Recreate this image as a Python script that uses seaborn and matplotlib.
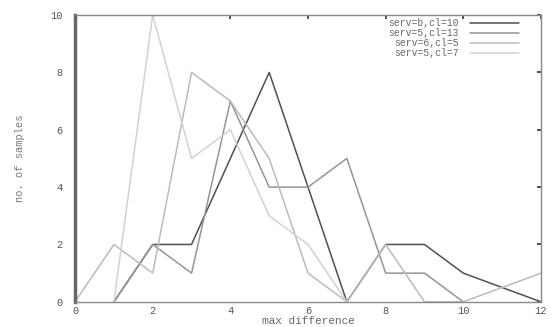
import numpy as np
import pandas as pd
import matplotlib
matplotlib.use("Agg")
import matplotlib.pyplot as plt
import seaborn as sns

# -------------------- DATA --------------------
x_vals = [0, 1, 2, 3, 4, 5, 6, 7, 8, 9, 10, 11, 12]
nan = np.nan
serv_b_cl10 = [nan, 0, 2, 2, 5, 8, 4, 0, 2, 2, 1, nan, 0]
serv_5_cl13 = [nan, 0, 2, 1, 7, 4, 4, 5, 1, 1, 0, nan, nan]
serv_6_cl5 = [0, 2, 1, 8, 7, 5, 1, 0, 2, 0, 0, nan, 1]
serv_5_cl7 = [nan, 0, 10, 5, 6, 3, 2, 0, nan, nan, nan, nan, nan]

series_names = ["serv=b,cl=10", "serv=5,cl=13", "serv=6,cl=5", "serv=5,cl=7"]
series_vals = [serv_b_cl10, serv_5_cl13, serv_6_cl5, serv_5_cl7]
colors = ["#505050", "#959595", "#bbbbbb", "#d2d2d2"]

x_ticks = [0, 2, 4, 6, 8, 10, 12]
y_ticks = [0, 2, 4, 6, 8, 10]

rows = []
for name, vals in zip(series_names, series_vals):
    for xv, yv in zip(x_vals, vals):
        if not np.isnan(yv):
            rows.append({"x": xv, "y": yv, "series": name})
df = pd.DataFrame(rows)

# -------------------- PLOT --------------------
sns.set_style("white")
plt.rcParams['font.family'] = ['Liberation Mono', 'DejaVu Sans Mono']

fig = plt.figure(figsize=(5.52, 3.27), dpi=100)
ax = fig.add_axes([0.136, 0.077, 0.844, 0.877])

sns.lineplot(data=df, x="x", y="y", hue="series", hue_order=series_names,
             palette=dict(zip(series_names, colors)), estimator=None,
             errorbar=None, sort=True, linewidth=1.1, ax=ax)

ax.set_xlim(0, 12)
ax.set_ylim(0, 10)
ax.set_xticks(x_ticks)
ax.set_yticks(y_ticks)
ax.set_xticklabels([str(t) for t in x_ticks], fontsize=7.5, color="#555555")
ax.set_yticklabels([str(t) for t in y_ticks], fontsize=7.5, color="#555555")
ax.tick_params(direction="in", length=3, width=1.2, color="#333333",
               top=True, right=True)
ax.tick_params(axis="y", pad=9)
ax.tick_params(axis="x", pad=3)

for side in ["top", "right", "bottom"]:
    ax.spines[side].set_color("#888888")
    ax.spines[side].set_linewidth(1.0)
ax.spines["left"].set_color("#666666")
ax.spines["left"].set_linewidth(2.5)

ax.set_xlabel("max difference", fontsize=8, color="#666666", labelpad=0)
ax.set_ylabel("no. of samples", fontsize=7.5, color="#777777", labelpad=18)

handles, labels = ax.get_legend_handles_labels()
leg = ax.legend(handles, labels, loc="upper right", bbox_to_anchor=(0.965, 1.01),
                markerfirst=False, frameon=False, fontsize=7,
                handlelength=5.0, handletextpad=1.2, labelspacing=0.0,
                borderaxespad=0.2)
for t in leg.get_texts():
    t.set_color("#666666")

fig.savefig("out.png", dpi=100)
